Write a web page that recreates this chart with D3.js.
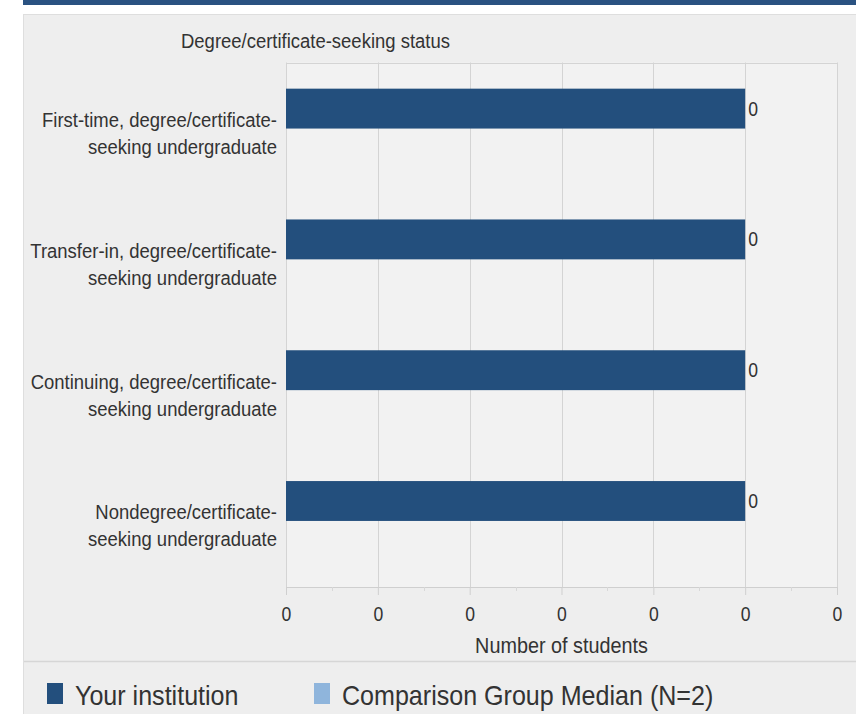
<!DOCTYPE html>
<html>
<head>
<meta charset="utf-8">
<script src="https://cdn.jsdelivr.net/npm/d3@7"></script>
<style>
  html, body { margin: 0; padding: 0; background: #ffffff; }
  svg { display: block; }
  text { font-family: "Liberation Sans", Arial, sans-serif; fill: #333; }
</style>
</head>
<body>
<svg id="chart" width="856" height="714"></svg>
<script>
// ---- data ----
const chartTitle = "Degree/certificate-seeking status";
const categories = [
  ["First-time, degree/certificate-", "seeking undergraduate"],
  ["Transfer-in, degree/certificate-", "seeking undergraduate"],
  ["Continuing, degree/certificate-", "seeking undergraduate"],
  ["Nondegree/certificate-", "seeking undergraduate"]
];
const seriesNames = ["Your institution", "Comparison Group Median (N=2)"];
// values are tiny fractions, displayed rounded to whole students (all show as 0)
const yourInstitution = [0.25, 0.25, 0.25, 0.25];
const comparisonMedian = [0, 0, 0, 0];
const xTickValues = [0, 0.05, 0.1, 0.15, 0.2, 0.25, 0.3];
const xAxisTitle = "Number of students";
const colors = ["#234f7d", "#8fb5dc"];

// ---- layout ----
const svg = d3.select("#chart");
const W = 856, H = 714;
const plot = { left: 286, right: 837, top: 62.5, bottom: 587 };
const SX = 0.88; // horizontal condensing of text

// top band and panel
svg.append("rect").attr("x", 23).attr("y", 0).attr("width", W - 23).attr("height", 5).attr("fill", "#2a5281");
svg.append("rect").attr("x", 23.5).attr("y", 14.5).attr("width", W - 23).attr("height", H - 14)
  .attr("fill", "#eeeeee").attr("stroke", "#dedede").attr("stroke-width", 1);

// plot background
svg.append("rect").attr("x", plot.left).attr("y", plot.top)
  .attr("width", plot.right - plot.left).attr("height", plot.bottom - plot.top)
  .attr("fill", "#f2f2f2");

const x = d3.scaleLinear().domain([0, 0.3]).range([plot.left, plot.right]);
const y0 = d3.scaleBand().domain(d3.range(categories.length))
  .range([plot.top, plot.bottom]).paddingInner(0.39).paddingOuter(0.2);
const y1 = d3.scaleBand().domain(d3.range(seriesNames.length)).range([0, y0.bandwidth()]);
const fmt = d3.format(".0f");

// gridlines
svg.append("g").selectAll("line").data(xTickValues).join("line")
  .attr("x1", d => Math.round(x(d)) + 0.5).attr("x2", d => Math.round(x(d)) + 0.5)
  .attr("y1", plot.top).attr("y2", plot.bottom)
  .attr("stroke", "#d4d4d4").attr("stroke-width", 1);
svg.append("line").attr("x1", plot.left).attr("x2", plot.right + 0.5)
  .attr("y1", Math.round(plot.top) + 0.5).attr("y2", Math.round(plot.top) + 0.5)
  .attr("stroke", "#d4d4d4");

// x axis
const xAxis = d3.axisBottom(x).tickValues(xTickValues).tickFormat(fmt).tickSize(8).tickPadding(10);
const gx = svg.append("g").attr("transform", `translate(0,${plot.bottom})`).call(xAxis);
gx.select(".domain").attr("stroke", "#cfcfcf");
gx.selectAll(".tick line").attr("stroke", "#cfcfcf");
gx.selectAll(".tick text").attr("font-size", 20).attr("fill", "#444")
  .attr("font-family", "'Liberation Sans', Arial, sans-serif")
  .attr("y", 34).attr("dy", 0).attr("transform", `scale(${SX},1)`);
// minor ticks
const minor = xTickValues.slice(0, -1).map((d, i) => (d + xTickValues[i + 1]) / 2);
svg.append("g").selectAll("line").data(minor).join("line")
  .attr("x1", d => Math.round(x(d)) + 0.5).attr("x2", d => Math.round(x(d)) + 0.5)
  .attr("y1", plot.bottom).attr("y2", plot.bottom + 4)
  .attr("stroke", "#d8d8d8");

// axis title
svg.append("text").attr("transform", `translate(${(plot.left + plot.right) / 2},653) scale(${SX},1)`)
  .attr("text-anchor", "middle").attr("font-size", 22.5).attr("fill", "#333").text(xAxisTitle);

// chart title
svg.append("text").attr("transform", `translate(181,48) scale(${SX},1)`)
  .attr("font-size", 21).attr("fill", "#333").text(chartTitle);

// bars
const series = [yourInstitution, comparisonMedian];
const groups = svg.append("g").selectAll("g").data(categories).join("g")
  .attr("transform", (d, i) => `translate(0,${y0(i)})`);
groups.selectAll("rect").data((d, i) => series.map((s, k) => ({ k, v: s[i] })).filter(e => e.v > 0))
  .join("rect")
  .attr("x", x(0)).attr("y", e => y1(e.k))
  .attr("width", e => x(e.v) - x(0)).attr("height", y1.bandwidth())
  .attr("fill", e => colors[e.k]);
groups.selectAll("text.val").data((d, i) => series.map((s, k) => ({ k, v: s[i] })).filter(e => e.v > 0))
  .join("text").attr("class", "val")
  .attr("transform", e => `translate(${x(e.v) + 3},${y1(e.k) + y1.bandwidth() / 2}) scale(${SX},1)`)
  .attr("dy", "0.35em").attr("font-size", 20).attr("fill", "#444").text(e => fmt(e.v));

// category labels
const labels = svg.append("g").selectAll("text").data(categories).join("text")
  .attr("text-anchor", "end").attr("font-size", 21).attr("fill", "#333")
  .attr("transform", (d, i) => `translate(277,${y0(i) + y0.bandwidth() / 2}) scale(${SX},1)`);
labels.selectAll("tspan").data(d => d).join("tspan")
  .attr("x", 0).attr("y", (d, j) => j === 0 ? -1.5 : 25.5).text(d => d);

// legend separator
svg.append("line").attr("x1", 24).attr("x2", W).attr("y1", 661.5).attr("y2", 661.5)
  .attr("stroke", "#d6d6d6").attr("stroke-width", 1.5);

// legend
const legendX = [47, 314];
const lg = svg.append("g").selectAll("g").data(seriesNames).join("g")
  .attr("transform", (d, i) => `translate(${legendX[i]},683)`);
lg.append("rect").attr("width", 16).attr("height", 21).attr("fill", (d, i) => colors[i]);
lg.append("text").attr("transform", "translate(28,21.5) scale(" + SX + ",1)")
  .attr("font-size", 28.5).attr("fill", "#333").text(d => d);
</script>
</body>
</html>
